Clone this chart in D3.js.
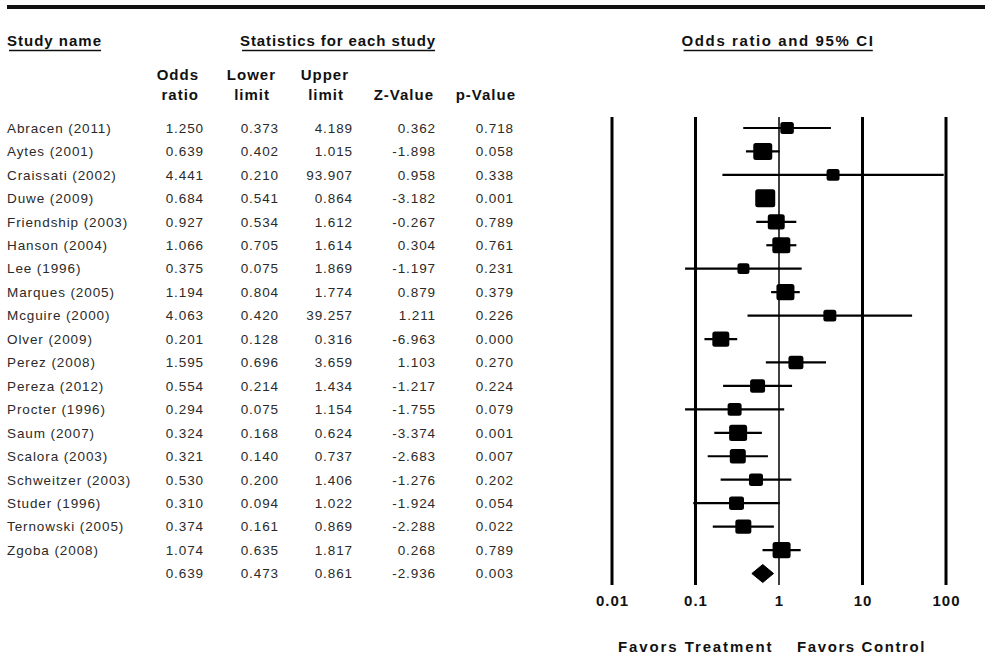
<!DOCTYPE html>
<html>
<head>
<meta charset="utf-8">
<script src="https://cdn.jsdelivr.net/npm/d3@7/dist/d3.min.js"></script>
<style>
  html, body { margin: 0; padding: 0; background: #fff; }
  svg { display: block; font-family: "Liberation Sans", Arial, sans-serif; }
</style>
</head>
<body>
<svg id="chart" width="985" height="672"></svg>
<script>
// Study-level results
const studies = [
  "Abracen (2011)", "Aytes (2001)", "Craissati (2002)", "Duwe (2009)",
  "Friendship (2003)", "Hanson (2004)", "Lee (1996)", "Marques (2005)",
  "Mcguire (2000)", "Olver (2009)", "Perez (2008)", "Pereza (2012)",
  "Procter (1996)", "Saum (2007)", "Scalora (2003)", "Schweitzer (2003)",
  "Studer (1996)", "Ternowski (2005)", "Zgoba (2008)"
];
const oddsRatio = [1.250, 0.639, 4.441, 0.684, 0.927, 1.066, 0.375, 1.194, 4.063, 0.201,
                   1.595, 0.554, 0.294, 0.324, 0.321, 0.530, 0.310, 0.374, 1.074];
const lowerLimit = [0.373, 0.402, 0.210, 0.541, 0.534, 0.705, 0.075, 0.804, 0.420, 0.128,
                    0.696, 0.214, 0.075, 0.168, 0.140, 0.200, 0.094, 0.161, 0.635];
const upperLimit = [4.189, 1.015, 93.907, 0.864, 1.612, 1.614, 1.869, 1.774, 39.257, 0.316,
                    3.659, 1.434, 1.154, 0.624, 0.737, 1.406, 1.022, 0.869, 1.817];
const zValue = [0.362, -1.898, 0.958, -3.182, -0.267, 0.304, -1.197, 0.879, 1.211, -6.963,
                1.103, -1.217, -1.755, -3.374, -2.683, -1.276, -1.924, -2.288, 0.268];
const pValue = [0.718, 0.058, 0.338, 0.001, 0.789, 0.761, 0.231, 0.379, 0.226, 0.000,
                0.270, 0.224, 0.079, 0.001, 0.007, 0.202, 0.054, 0.022, 0.789];
// Relative weights (marker area)
const relWeight = [4.6, 9.0, 4.2, 10.0, 7.2, 8.1, 3.6, 8.1, 4.2, 7.2,
                   5.6, 5.6, 4.9, 8.1, 6.4, 4.9, 5.6, 6.4, 8.1];

// Pooled estimate
const pooled = { or: 0.639, lower: 0.473, upper: 0.861, z: -2.936, p: 0.003 };

// Column header text (two lines each)
const columnHeaders = [
  ["Odds", "ratio"], ["Lower", "limit"], ["Upper", "limit"], ["", "Z-Value"], ["", "p-Value"]
];

// Axis ticks
const axisTicks = [0.01, 0.1, 1, 10, 100];
const axisTickLabels = ["0.01", "0.1", "1", "10", "100"];

const svg = d3.select("#chart");
const fmt3 = d3.format(".3f");
const fmt = v => fmt3(v).replace("\u2212", "-");

const nRows = studies.length + 1;
const y = d3.scaleLinear().domain([0, nRows - 1]).range([128, 573.5]);
const x = d3.scaleLog().domain([0.01, 100]).range([612, 946]);
const size = d3.scaleSqrt().domain([0, d3.max(relWeight)]).range([0, 20]);

// Top rule
svg.append("line").attr("x1", 7).attr("x2", 985).attr("y1", 7).attr("y2", 7)
  .attr("stroke", "#111").attr("stroke-width", 4);

// Section headings (bold, underlined)
const headings = [
  { text: "Study name", x: 7, anchor: "start", ls: 1 },
  { text: "Statistics for each study", x: 338, anchor: "middle", ls: 0.9 },
  { text: "Odds ratio and 95% CI", x: 778, anchor: "middle", ls: 1.6 }
];
headings.forEach(h => {
  const t = svg.append("text").attr("x", h.x).attr("y", 46)
    .attr("text-anchor", h.anchor)
    .attr("font-size", 15).attr("font-weight", "bold").attr("fill", "#111")
    .attr("letter-spacing", h.ls)
    .text(h.text);
  const bb = t.node().getBBox();
  svg.append("line").attr("x1", bb.x + 2).attr("x2", bb.x + bb.width - h.ls)
    .attr("y1", 50.5).attr("y2", 50.5).attr("stroke", "#111").attr("stroke-width", 1.5);
});

// Column headers, right-aligned per line
const colRight = [204, 279, 353, 436, 514];
const headRight = [[199, 199], [276, 270], [349, 344], [434, 434], [516, 516]];
columnHeaders.forEach((lines, i) => {
  lines.forEach((s, j) => {
    if (!s) return;
    svg.append("text").attr("x", headRight[i][j]).attr("y", 80 + j * 20)
      .attr("text-anchor", "end").attr("font-size", 15).attr("font-weight", "bold")
      .attr("letter-spacing", 1)
      .attr("fill", "#111").text(s);
  });
});

// Table body
const tableRows = studies.map((s, i) => ({
  name: s, vals: [oddsRatio[i], lowerLimit[i], upperLimit[i], zValue[i], pValue[i]]
}));
tableRows.push({ name: "", vals: [pooled.or, pooled.lower, pooled.upper, pooled.z, pooled.p] });

const rowG = svg.append("g").attr("font-size", 13.5).attr("fill", "#2a2a2a")
  .attr("letter-spacing", 0.9);
tableRows.forEach((r, i) => {
  const yy = y(i) + 4.8;
  rowG.append("text").attr("x", 7).attr("y", yy).text(r.name);
  r.vals.forEach((v, k) => {
    rowG.append("text").attr("x", colRight[k]).attr("y", yy)
      .attr("text-anchor", "end").text(fmt(v));
  });
});

// Reference lines at each decade
const plotTop = 117, plotBottom = 585;
svg.append("g").selectAll("line").data(axisTicks).join("line")
  .attr("x1", d => x(d)).attr("x2", d => x(d))
  .attr("y1", plotTop).attr("y2", plotBottom)
  .attr("stroke", "#000").attr("stroke-width", d => d === 1 ? 1.5 : 3);

// Tick labels
svg.append("g").selectAll("text").data(axisTicks).join("text")
  .attr("x", d => x(d) + 0.5).attr("y", 606).attr("text-anchor", "middle")
  .attr("font-size", 15).attr("font-weight", "bold").attr("fill", "#111")
  .attr("letter-spacing", 1)
  .text((d, i) => axisTickLabels[i]);

// Confidence intervals
const forest = svg.append("g");
forest.selectAll("line.ci").data(studies).join("line").attr("class", "ci")
  .attr("x1", (d, i) => x(lowerLimit[i])).attr("x2", (d, i) => x(upperLimit[i]))
  .attr("y1", (d, i) => y(i)).attr("y2", (d, i) => y(i))
  .attr("stroke", "#000").attr("stroke-width", 2.2);

// Weighted point estimates
forest.selectAll("rect").data(studies).join("rect")
  .attr("x", (d, i) => x(oddsRatio[i]) - size(relWeight[i]) / 2)
  .attr("y", (d, i) => y(i) - size(relWeight[i]) / 2 * 0.9)
  .attr("width", (d, i) => size(relWeight[i]))
  .attr("height", (d, i) => size(relWeight[i]) * 0.9)
  .attr("rx", 2.5)
  .attr("fill", "#000");

// Pooled diamond
const yp = y(nRows - 1);
forest.append("path")
  .attr("d", `M${x(pooled.lower)},${yp} L${x(pooled.or)},${yp - 9} L${x(pooled.upper)},${yp} L${x(pooled.or)},${yp + 9} Z`)
  .attr("fill", "#000").attr("stroke", "#000").attr("stroke-linejoin", "round");

// Direction labels
svg.append("text").attr("x", 618).attr("y", 652).attr("font-size", 15).attr("font-weight", "bold")
  .attr("letter-spacing", 1.9).attr("fill", "#111").text("Favors Treatment");
svg.append("text").attr("x", 797).attr("y", 652).attr("font-size", 15).attr("font-weight", "bold")
  .attr("letter-spacing", 1.6).attr("fill", "#111").text("Favors Control");
</script>
</body>
</html>
